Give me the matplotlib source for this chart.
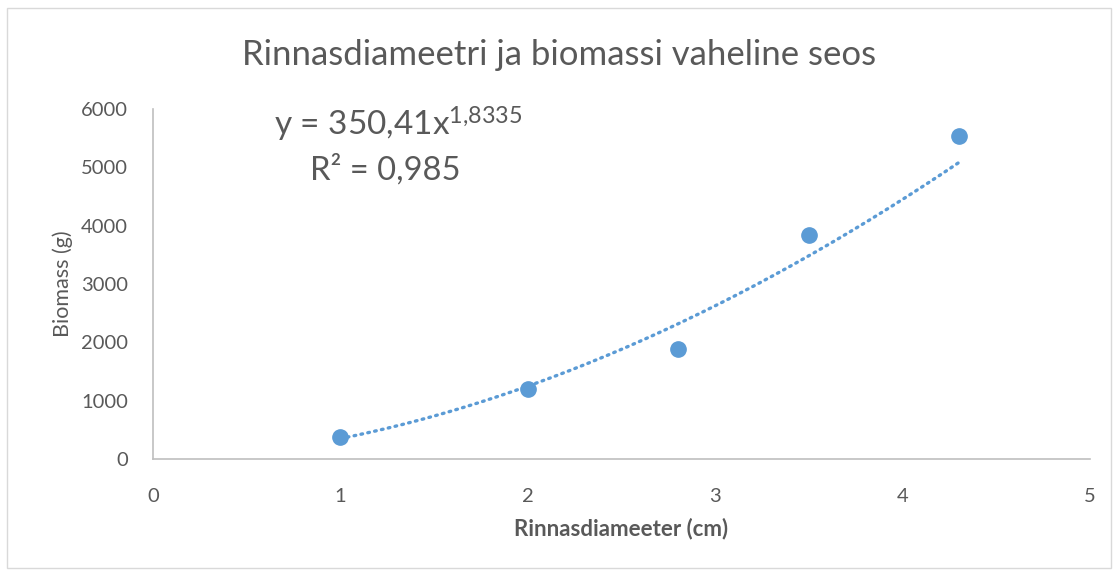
import matplotlib.pyplot as plt
import numpy as np
from matplotlib.patches import Rectangle

# data
diameter = [1.0, 2.0, 2.8, 3.5, 4.3]
biomass = [375, 1195, 1885, 3835, 5535]

# power trendline shown in the chart
coefA = 350.41
coefB = 1.8335
r2 = 0.985

blue = "#5B9BD5"
grey = "#595959"
plt.rcParams['font.family'] = ['Lato', 'DejaVu Sans']
plt.rcParams['mathtext.fontset'] = 'custom'
plt.rcParams['mathtext.rm'] = 'Lato'
plt.rcParams['mathtext.it'] = 'Lato'

fig = plt.figure(figsize=(11.18, 5.74), dpi=100)
fig.patches.append(Rectangle((7/1118, 6/574), 1104/1118, 560/574, transform=fig.transFigure,
                             fill=False, edgecolor="#d9d9d9", lw=1))
ax = fig.add_axes([153/1118, 1 - 459/574, (1090 - 153)/1118, (459 - 109)/574])

xs = np.linspace(min(diameter), max(diameter), 200)
ax.plot(xs, coefA * xs ** coefB, color=blue, lw=2.4, linestyle=(0, (0.5, 1.6)),
        dash_capstyle="round", zorder=2)
ax.plot(diameter, biomass, "o", color=blue, markersize=11, zorder=3)

ax.set_xlim(0, 5)
ax.set_ylim(0, 6000)
ax.set_xticks(range(0, 6))
ax.set_yticks(range(0, 6001, 1000))
ax.tick_params(length=0, labelsize=14.5, colors=grey, pad=18)
ax.tick_params(axis='x', pad=21)
for s in ["top", "right"]:
    ax.spines[s].set_visible(False)
for s in ["left", "bottom"]:
    ax.spines[s].set_color("#bfbfbf")
    ax.spines[s].set_linewidth(1.2)

ax.set_xlabel("Rinnasdiameeter (cm)", fontsize=16, fontweight="bold", color=grey, labelpad=9)
ax.set_ylabel("Biomass (g)", fontsize=15.5, color=grey, labelpad=6)
fig.text(0.5, 1 - 55/574, "Rinnasdiameetri ja biomassi vaheline seos", ha="center", va="center",
         fontsize=25, color=grey)

fig.text(398/1118, 1 - 124/574, "y = 350,41x$^{1{,}8335}$", ha="center", va="center",
         fontsize=24, color=grey)
fig.text(385/1118, 1 - 170/574, "R² = 0,985", ha="center", va="center",
         fontsize=23.5, color=grey)

fig.savefig("out.png", dpi=100)
